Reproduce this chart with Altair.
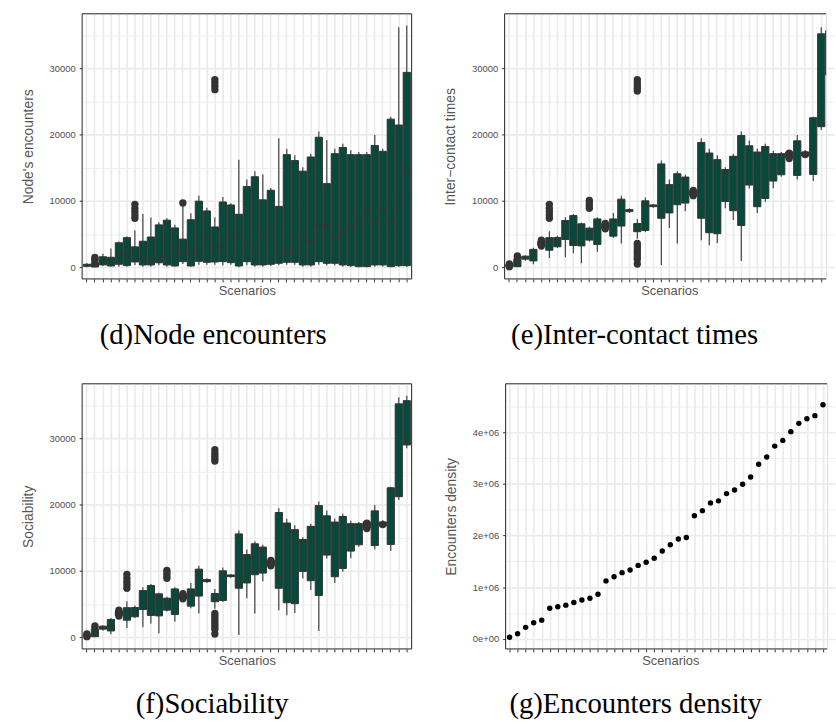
import altair as alt
import pandas as pd

N = 41
scenarios = [f"S{i + 1:02d}" for i in range(N)]

# (d) Node encounters: whisker low, Q1, median, Q3, whisker high
ne_lw = [0, 0, 200, 100, 100, 100, 350, 100, 100, 300,
         100, 100, 500, 100, 400, 400, 400, 300, 400, 0,
         300, 100, 100, 200, 300, 400, 400, 100, 100, 400,
         300, 300, 100, 50, 0, 0, 100, 100, 0, 50, 50]
ne_q1 = [150, 50, 360, 200, 450, 250, 800, 350, 350, 680,
         350, 200, 850, 200, 900, 750, 800, 850, 700, 200,
         845, 350, 350, 450, 600, 750, 750, 350, 350, 845,
         600, 600, 350, 250, 100, 100, 350, 350, 100, 250, 250]
ne_med = [300, 300, 1000, 800, 1850, 1700, 1100, 1250, 1300, 1300,
          1480, 2900, 2350, 2450, 2350, 4380, 2900, 3150, 4650, 4500,
          3480, 1990, 4670, 5660, 2580, 2090, 2330, 4820, 3920, 6310,
          6310, 4420, 5170, 6210, 6950, 8300, 6810, 8690, 6660, 10530, 14260]
ne_q3 = [450, 700, 1590, 1510, 3700, 4470, 3085, 3930, 4570, 6400,
         7110, 5940, 4250, 7170, 9970, 8500, 6080, 9850, 9400, 8000,
         12170, 13660, 10180, 11620, 9190, 16990, 16100, 14500, 16640, 19620,
         12620, 17140, 18080, 16990, 16990, 16990, 18380, 17490, 22350, 21460, 29410]
ne_uw = [650, 1100, 2050, 2830, 3900, 4670, 5550, 8050, 7500, 6800,
         7400, 6400, 9200, 8170, 10790, 9000, 7540, 10600, 9650, 16240,
         13260, 14500, 14000, 11970, 19470, 17880, 16890, 15100, 17140, 20470,
         19220, 17880, 18630, 17640, 17390, 17390, 19970, 17880, 22700, 36200, 36460]
ne_out_idx = [1, 1, 1, 6, 6, 6, 6, 6, 12, 16, 16, 16, 16]
ne_out_val = [1000, 1250, 1500, 7400, 7900, 8400, 8900, 9500, 9700,
              26800, 27300, 27800, 28300]

# (e) Inter-contact times and (f) Sociability (same distributions)
ic_lw = [0, 0, 1000, 450, 3100, 1400, 2900, 1500, 2100, 600,
         3900, 2330, 5600, 4400, 3580, 8200, 4320, 5320, 9000, 350,
         5910, 3580, 8450, 10500, 4070, 3330, 3680, 8890, 7150, 940,
         11870, 8200, 9890, 11920, 13660, 16200, 13260, 16600, 13010, 20720, 28520]
ic_q1 = [100, 100, 1230, 960, 3300, 2580, 3100, 4200, 3300, 3230,
         4100, 3450, 5800, 4700, 6220, 8400, 5370, 5560, 9150, 7400,
         8200, 9440, 9690, 10800, 7400, 5220, 5070, 9940, 8540, 6310,
         12420, 9140, 10380, 13010, 13960, 16500, 13860, 16800, 14010, 21210, 29020]
ic_med = [250, 500, 1450, 1840, 3600, 3950, 3900, 5300, 3900, 6300,
          5400, 5800, 6200, 6700, 10000, 8550, 5740, 9500, 9290, 8000,
          12300, 13760, 13360, 11200, 9140, 16990, 15900, 14500, 16590, 19320,
          12520, 17240, 18080, 16990, 16990, 17000, 18330, 17100, 22450, 21560, 29270]
ic_q3 = [400, 1200, 1680, 2700, 3900, 4470, 4500, 7050, 7800, 6560,
         5900, 7300, 6600, 7300, 10280, 8700, 6600, 10030, 9400, 15600,
         12470, 14110, 13610, 11600, 18830, 17240, 16240, 14750, 16740, 19870,
         18330, 17390, 18230, 17140, 17140, 17400, 19080, 17400, 22550, 35220, 35700]
ic_uw = [600, 1500, 1800, 2930, 4100, 5450, 4800, 7550, 8050, 6710,
         6100, 7550, 6800, 8200, 10780, 8900, 7300, 10530, 9500, 16100,
         13260, 14500, 13960, 11800, 19470, 17880, 16890, 15100, 17140, 20470,
         19120, 17880, 18630, 17590, 17390, 17700, 19970, 17700, 22700, 36210, 36460]
ic_out_idx = [0, 0, 0, 1, 1, 4, 4, 4, 4, 5, 5, 5, 5, 5, 10, 10, 10, 10,
              12, 12, 12, 16, 16, 16, 16, 16, 16, 16, 16, 16, 16, 16, 16, 16,
              23, 23, 23, 35, 35, 35, 37]
ic_out_val = [100, 300, 500, 1400, 1700, 3200, 3500, 3800, 4100,
              7400, 7900, 8400, 8900, 9500, 8900, 9300, 9700, 10100,
              5800, 6200, 6600,
              500, 1200, 1600, 2000, 2400, 2800, 3200, 3600,
              26600, 27000, 27400, 27800, 28300,
              10800, 11200, 11600, 16400, 16800, 17200, 17000]

# (g) Encounters density
density = [30000, 96000, 220000, 310000, 360000, 590000, 620000, 650000, 700000, 750000,
           785000, 860000, 1120000, 1200000, 1280000, 1330000, 1420000, 1480000, 1560000, 1700000,
           1820000, 1930000, 1960000, 2380000, 2480000, 2630000, 2670000, 2810000, 2880000, 2990000,
           3130000, 3380000, 3520000, 3730000, 3840000, 4010000, 4170000, 4260000, 4320000, 4530000,
           4700000]

FILL = "#074a3c"
DARK = "#333333"
GRID = "#EBEBEB"
H = 268
FULL_W = 333


def borders(W, right_side):
    base = alt.Chart(pd.DataFrame({"f": [0]}))
    st = dict(color=DARK, strokeWidth=1)
    parts = [
        base.mark_rule(**st).encode(x=alt.value(0), x2=alt.value(W), y=alt.value(0)),
        base.mark_rule(**st).encode(x=alt.value(0), x2=alt.value(W), y=alt.value(H)),
        base.mark_rule(**st).encode(x=alt.value(0), y=alt.value(0), y2=alt.value(H)),
    ]
    if right_side:
        parts.append(base.mark_rule(**st).encode(x=alt.value(W), y=alt.value(0), y2=alt.value(H)))
    return parts


def x_channel(clipped):
    axis = alt.Axis(
        title="Scenarios", labels=False, ticks=True, tickSize=3, tickColor=DARK,
        domain=False, grid=True, gridColor=GRID, gridWidth=1.7, bandPosition=0.5,
        titleFontSize=13, titleColor="#555555", titlePadding=2, titleFontWeight="normal",
        titleFont="Liberation Sans", titleX=FULL_W / 2,
        values=scenarios[:40] if clipped else scenarios,
    )
    scale = alt.Scale(domain=scenarios, range=[0, FULL_W], paddingInner=0.1, paddingOuter=0.15)
    return alt.X("scenario:N", sort=scenarios, scale=scale, axis=axis)


def y_axis(title, major, label_expr, values):
    return alt.Axis(
        title=title, grid=True, gridColor=GRID, values=values,
        gridWidth={"condition": {"test": f"datum.value % {major} === 0", "value": 1.7}, "value": 0.8},
        tickOpacity={"condition": {"test": f"datum.value % {major} === 0", "value": 1}, "value": 0},
        tickSize=3, tickColor=DARK, domain=False, labelFontSize=9.5, labelColor="#4D4D4D",
        labelFont="Liberation Sans", labelPadding=4, titleFontSize=14, titleColor="#555555",
        titlePadding=14, titleFontWeight="normal", titleFont="Liberation Sans",
        labelExpr=label_expr,
    )


def caption(text, dx, offset):
    return alt.TitleParams(text=text, orient="bottom", anchor="middle", font="Liberation Serif",
                           fontSize=29, fontWeight="normal", color="#000000", offset=offset, dx=dx)


def box_panel(lw, q1, med, q3, uw, out_idx, out_val, ytitle, cap, W, clipped, dx, offset):
    df = pd.DataFrame({"scenario": scenarios, "lw": lw, "q1": q1, "med": med, "q3": q3, "uw": uw})
    odf = pd.DataFrame({"scenario": [scenarios[i] for i in out_idx], "v": out_val})
    ys = alt.Scale(domain=[-1750, 38250], nice=False)
    ya = y_axis(ytitle, 10000, "datum.value % 10000 === 0 ? format(datum.value, 'd') : ''",
                list(range(0, 40000, 5000)))
    x = x_channel(clipped)
    base = alt.Chart(df)
    whisk = base.mark_rule(color=DARK, strokeWidth=1.1, clip=clipped).encode(
        x=x, y=alt.Y("lw:Q", scale=ys, axis=ya), y2="uw:Q")
    box = base.mark_bar(fill=FILL, stroke=DARK, strokeWidth=1, clip=clipped).encode(
        x=x, y=alt.Y("q1:Q", scale=ys, axis=ya), y2="q3:Q")
    medt = base.mark_tick(color=DARK, thickness=2, size=7, clip=clipped).encode(
        x=x, y=alt.Y("med:Q", scale=ys, axis=ya))
    outl = alt.Chart(odf).mark_circle(color=DARK, size=55, opacity=1, clip=clipped).encode(
        x=x, y=alt.Y("v:Q", scale=ys, axis=ya))
    return alt.layer(whisk, box, medt, outl, *borders(W, not clipped)).properties(
        width=W, height=H, title=caption(cap, dx, offset))


def dens_panel(W, clipped, dx, offset):
    df = pd.DataFrame({"scenario": scenarios, "d": density})
    ys = alt.Scale(domain=[-197000, 4937000], nice=False)
    ya = y_axis("Encounters density", 1000000,
                "datum.value === 0 ? '0e+00' : (datum.value % 1000000 === 0 ? format(datum.value / 1000000, 'd') + 'e+06' : '')",
                list(range(0, 5000000, 500000)))
    x = x_channel(clipped)
    pts = alt.Chart(df).mark_circle(color="#000000", size=30, opacity=1, clip=clipped).encode(
        x=x, y=alt.Y("d:Q", scale=ys, axis=ya))
    return alt.layer(pts, *borders(W, not clipped)).properties(
        width=W, height=H, title=caption("(g)Encounters density", dx, offset))


RIGHT_W = 325
d = box_panel(ne_lw, ne_q1, ne_med, ne_q3, ne_uw, ne_out_idx, ne_out_val,
              "Node's encounters", "(d)Node encounters", FULL_W, False, -34, 24)
e = box_panel(ic_lw, ic_q1, ic_med, ic_q3, ic_uw, ic_out_idx, ic_out_val,
              "Inter\u2212contact times", "(e)Inter-contact times", RIGHT_W, True, -31, 24)
f = box_panel(ic_lw, ic_q1, ic_med, ic_q3, ic_uw, ic_out_idx, ic_out_val,
              "Sociability", "(f)Sociability", FULL_W, False, -35, 23)
g = dens_panel(RIGHT_W, True, -31, 23)

chart = alt.vconcat(
    alt.hconcat(d, e, spacing=31),
    alt.hconcat(f, g, spacing=31),
    spacing=33,
).properties(
    padding={"left": 21, "top": 9, "right": 0, "bottom": 0}
).configure_view(stroke=None).configure(background="white")

chart.save("out.html", embed_options={"renderer": "svg", "actions": False})
